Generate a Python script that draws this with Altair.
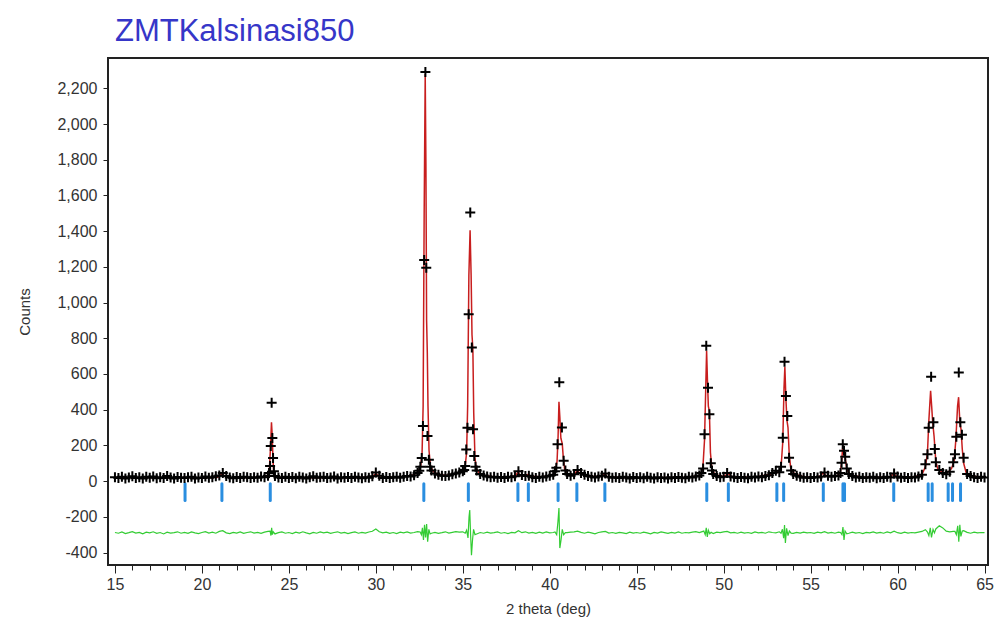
import altair as alt
import pandas as pd

# ---------------- data ----------------
SCAN_START = 15.0
SCAN_STEP = 0.2

# observed counts on the coarse scan grid 15.0 .. 65.0 (None = covered by peak points)
obs_grid = [
    22, 18, 25, 15, 20, 27, 17, 21, 14, 24,
    19, 26, 16, 22, 18, 28, 20, 15, 23, 19,
    17, 21, 25, 14, 20, 18, 26, 19, 22, 27,
    32, 45, 28, 20, 16, 23, 18, 25, 21, 17,
    22, 19, 26, 21, 30, None, 28, 20, 17, 24,
    18, 23, 16, 25, 20, 14, 22, 27, 19, 21,
    24, 17, 20, 26, 15, 22, 19, 23, 18, 25,
    20, 16, 22, 19, 27, 48, 30, 18, 23, 17,
    21, 25, 19, 24, 28, 26, 33, 45, None, None,
    None, 60, 42, 35, 30, 28, 32, 38, 42, 48,
    55, None, None, None, 60, 40, 32, 26, 22, 25,
    19, 23, 18, 24, 21, 27, 55, 34, 28, 30,
    22, 18, 25, 20, 26, 30, 35, None, None, None,
    40, 30, 38, 62, 45, 35, 28, 24, 20, 26,
    30, 42, 25, 19, 22, 17, 24, 20, 15, 23,
    18, 21, 16, 24, 19, 14, 22, 17, 20, 15,
    21, 17, 23, 19, 16, 24, 20, 26, 32, None,
    None, None, 40, 28, 22, 25, 45, 26, 21, 18,
    23, 19, 16, 24, 20, 26, 22, 28, 33, 45,
    58, 50, None, None, None, 40, 30, 24, 19, 22,
    18, 23, 20, 26, 48, 30, 24, 28, 32, None,
    None, 40, 28, 20, 24, 17, 22, 19, 25, 16,
    21, 18, 24, 20, 42, 26, 19, 23, 17, 22,
    20, 26, 35, 95, None, None, 105, 62, 45, 38,
    52, 105, None, None, 131, 40, 28, 22, 18, 24,
    20,
]

# observed points across the Bragg peaks
peak_x = [
    23.86, 23.92, 23.96, 24.01, 24.05, 24.09, 24.14,
    32.50, 32.56, 32.64, 32.71, 32.78, 32.85, 32.90, 32.97, 33.05, 33.12,
    35.08, 35.14, 35.20, 35.27, 35.34, 35.43, 35.52, 35.59, 35.66, 35.73,
    40.30, 40.38, 40.45, 40.55, 40.70, 40.80, 40.90,
    48.72, 48.82, 48.90, 49.00, 49.10, 49.18, 49.26, 49.33,
    53.30, 53.40, 53.50, 53.58, 53.66, 53.76, 53.88,
    56.72, 56.78, 56.85, 56.92, 56.99, 57.08,
    61.72, 61.79, 61.93, 62.06, 62.14,
    63.30, 63.38, 63.52, 63.61, 63.70,
]
peak_obs = [
    45, 84, 196, 439, 241, 129, 55,
    58, 80, 130, 308, 1238, 2291, 1195, 252, 120, 80,
    62, 85, 177, 299, 935, 1505, 749, 290, 140, 80,
    55, 75, 207, 553, 300, 114, 60,
    45, 71, 263, 758, 523, 375, 100, 60,
    80, 243, 668, 476, 364, 131, 60,
    45, 103, 207, 170, 136, 70,
    150, 299, 584, 329, 180,
    150, 248, 609, 330, 260,
]

# calculated profile
calc_x = [
    15.0, 16.0, 17.0, 18.0, 19.0, 20.0, 20.9, 21.15, 21.4, 22.0, 23.0, 23.6,
    23.8, 23.88, 23.94, 24.00, 24.04, 24.08, 24.12, 24.2, 24.5, 25.0, 26.0,
    27.0, 28.0, 29.0, 29.8, 30.0, 30.2, 31.0, 31.8, 32.2, 32.45, 32.58, 32.66,
    32.72, 32.78, 32.84, 32.88, 32.92, 32.96, 33.00, 33.06, 33.14, 33.3, 33.6,
    34.0, 34.5, 34.9, 35.05, 35.15, 35.22, 35.28, 35.35, 35.42, 35.48, 35.53,
    35.58, 35.63, 35.70, 35.78, 35.95, 36.3, 37.0, 37.8, 38.05, 38.18, 38.3,
    38.65, 38.77, 38.9, 39.5, 40.0, 40.3, 40.42, 40.48, 40.53, 40.58, 40.64,
    40.72, 40.78, 40.86, 41.0, 41.4, 41.58, 41.75, 42.2, 43.0, 43.17, 43.3,
    44.0, 45.0, 46.0, 47.0, 48.0, 48.6, 48.8, 48.9, 48.97, 49.02, 49.07, 49.12,
    49.18, 49.24, 49.32, 49.5, 50.0, 50.27, 50.45, 51.0, 52.0, 52.7, 53.0,
    53.12, 53.3, 53.4, 53.47, 53.52, 53.58, 53.64, 53.70, 53.77, 53.86, 54.1,
    54.6, 55.0, 55.5, 55.73, 55.9, 56.5, 56.7, 56.78, 56.85, 56.92, 56.99,
    57.08, 57.3, 58.0, 59.0, 59.6, 59.78, 59.95, 60.5, 61.0, 61.4, 61.6, 61.72,
    61.8, 61.9, 61.96, 62.02, 62.1, 62.2, 62.32, 62.45, 62.7, 62.9, 63.1, 63.25,
    63.35, 63.45, 63.51, 63.58, 63.65, 63.72, 63.8, 63.95, 64.2, 64.6, 65.0,
]
calc_y = [
    20, 20, 20, 19, 20, 19, 21, 40, 22, 19, 20, 24,
    34, 70, 180, 330, 260, 140, 60, 32, 22, 20, 19,
    19, 19, 20, 24, 42, 24, 22, 27, 36, 55, 85, 160,
    420, 1500, 2280, 1780, 900, 720, 420, 170, 85, 52, 38,
    32, 40, 52, 65, 95, 160, 420, 1150, 1405, 1150, 820,
    740, 380, 130, 70, 45, 30, 22, 24, 32, 52, 30,
    30, 38, 27, 24, 28, 45, 110, 250, 444, 360, 240,
    210, 130, 65, 38, 36, 60, 42, 27, 26, 42, 25,
    20, 19, 19, 20, 22, 32, 65, 230, 520, 730, 560, 420,
    390, 160, 70, 36, 26, 42, 26, 22, 26, 38, 52,
    48, 75, 220, 520, 640, 460, 340, 300, 150, 70, 38,
    25, 22, 26, 46, 28, 30, 45, 100, 200, 175, 130,
    65, 34, 22, 21, 24, 42, 24, 22, 24, 36, 80, 160,
    340, 506, 420, 330, 250, 110, 65, 58, 45, 50, 70, 110,
    230, 420, 470, 330, 290, 180, 100, 45, 30, 24, 22,
]

# difference curve (shown offset) on the coarse grid
diff_grid = [
    -288, -292, -285, -294, -289, -283, -291, -287, -295, -286,
    -290, -284, -293, -288, -296, -286, -291, -289, -284, -292,
    -287, -293, -285, -290, -294, -288, -283, -291, -286, -292,
    -282, -278, -290, -294, -287, -291, -285, -293, -288, -284,
    -291, -287, -293, -286, -282, None, -296, -289, -285, -292,
    -288, -294, -286, -291, -284, -290, -295, -287, -292, -285,
    -290, -286, -293, -288, -284, -291, -287, -294, -289, -285,
    -292, -287, -291, -285, -281, -268, -284, -290, -286, -293,
    -288, -294, -286, -290, -285, -291, -288, -283, None, None,
    None, -292, -287, -293, -289, -284, -291, -287, -283, -286,
    -284, None, None, None, -296, -288, -292, -286, -291, -289,
    -285, -292, -288, -294, -287, -290, -278, -289, -284, -291,
    -287, -293, -286, -291, -285, -290, -288, None, None, None,
    -289, -286, -284, -280, -287, -292, -286, -290, -295, -288,
    -284, -282, -291, -288, -293, -287, -290, -294, -286, -291,
    -288, -292, -286, -290, -295, -287, -291, -285, -289, -293,
    -287, -291, -285, -292, -288, -290, -286, -283, -289, None,
    None, None, -294, -286, -289, -284, -282, -290, -287, -292,
    -286, -291, -288, -293, -285, -290, -287, -292, -284, -288,
    -290, -284, None, None, None, -293, -287, -291, -286, -290,
    -288, -293, -286, -290, -283, -291, -287, -292, -286, None,
    None, -292, -286, -291, -288, -294, -287, -290, -285, -291,
    -287, -292, -285, -290, -281, -289, -293, -286, -291, -288,
    -290, -286, -282, -272, None, None, -268, -250, -262, -280,
    -284, -282, None, None, -278, -287, -292, -286, -290, -288,
    -289,
]
diff_peak_x = [
    23.92, 23.97, 24.01, 24.05, 24.10,
    32.55, 32.62, 32.68, 32.74, 32.80, 32.86, 32.92, 32.98, 33.05, 33.12,
    35.14, 35.22, 35.30, 35.36, 35.40, 35.45, 35.50, 35.56, 35.62, 35.70,
    40.30, 40.40, 40.47, 40.53, 40.58, 40.65, 40.72, 40.80, 40.90,
    48.86, 48.94, 49.00, 49.06, 49.12, 49.20, 49.28,
    53.30, 53.38, 53.45, 53.50, 53.55, 53.62, 53.70, 53.78, 53.88,
    56.72, 56.80, 56.86, 56.92, 56.98, 57.08,
    61.72, 61.80, 61.88, 61.95, 62.04, 62.12,
    63.30, 63.38, 63.46, 63.52, 63.58, 63.64, 63.72,
]
diff_peak_y = [
    -280, -305, -262, -300, -284,
    -285, -300, -262, -330, -245, -315, -240, -340, -270, -296,
    -292, -275, -318, -200, -162, -300, -415, -330, -270, -300,
    -285, -300, -230, -151, -375, -330, -270, -300, -288,
    -280, -300, -262, -313, -275, -295, -287,
    -292, -270, -320, -246, -347, -265, -305, -280, -292,
    -288, -300, -257, -330, -280, -295,
    -285, -305, -262, -315, -270, -290,
    -282, -300, -250, -340, -245, -310, -280,
]

# reflection positions (blue markers)
hkl_pos = [19.03, 21.15, 23.93, 32.76, 35.32, 38.17, 38.77, 40.48, 41.56, 43.17,
           49.03, 50.27, 53.06, 53.45, 55.73, 56.86, 56.95, 59.78, 61.76, 61.99,
           62.91, 63.16, 63.62]
hkl_top, hkl_bottom = -15, -108

x_tick_values = list(range(15, 66))
y_tick_values = list(range(-400, 2201, 200))

# ---------------- tables ----------------
grid_x = [round(SCAN_START + SCAN_STEP * i, 2) for i in range(len(obs_grid))]
obs_df = pd.concat([
    pd.DataFrame({"x": grid_x, "y": obs_grid}).dropna(),
    pd.DataFrame({"x": peak_x, "y": peak_obs}),
])
calc_df = pd.DataFrame({"x": calc_x, "y": calc_y})
diff_df = pd.concat([
    pd.DataFrame({"x": grid_x, "y": diff_grid}).dropna(),
    pd.DataFrame({"x": diff_peak_x, "y": diff_peak_y}),
]).sort_values("x")
hkl_df = pd.DataFrame({"x": hkl_pos, "y": [hkl_top] * len(hkl_pos), "y2": [hkl_bottom] * len(hkl_pos)})

FONT = "Liberation Sans"
xs = alt.Scale(domain=[14.6, 65.2], nice=False, zero=False)
ys = alt.Scale(domain=[-470, 2370], nice=False, zero=False)

xaxis = alt.Axis(
    values=x_tick_values,
    labelExpr="datum.value % 5 === 0 ? datum.label : ''",
    tickSize={"condition": {"test": "datum.value % 5 === 0", "value": 8}, "value": 5},
    tickColor="#222", tickWidth=1, domain=False, grid=False,
    labelFontSize=16, labelColor="#333", labelFont=FONT, labelPadding=3,
    labelFlush=False, labelOverlap=False,
    title="2 theta (deg)", titleFontSize=15, titleFontWeight="normal",
    titleColor="#333", titleFont=FONT, titlePadding=9,
)
yaxis = alt.Axis(
    values=y_tick_values,
    labelExpr="(datum.value < 0 ? '-' : '') + format(abs(datum.value), ',')",
    tickSize=5, tickColor="#222", domain=False, grid=False,
    labelFontSize=16, labelColor="#333", labelFont=FONT, labelPadding=6,
    labelOverlap=False, labelFlush=False,
    title="Counts", titleFontSize=15, titleFontWeight="normal",
    titleColor="#333", titleFont=FONT, titlePadding=24,
)

X = alt.X("x:Q", scale=xs, axis=xaxis)
Y = alt.Y("y:Q", scale=ys, axis=yaxis)

calc_line = alt.Chart(calc_df).mark_line(color="#c81e1e", strokeWidth=1.5, clip=True).encode(x=X, y=Y)
ticks = alt.Chart(hkl_df).mark_rule(color="#2a8ee0", strokeWidth=3, strokeCap="round", clip=True).encode(
    x=X, y=Y, y2="y2:Q"
)
obs_pts = alt.Chart(obs_df).mark_point(
    shape="M -1 0 L 1 0 M 0 -1 L 0 1", filled=False, stroke="#000",
    strokeWidth=2, size=100, opacity=1, clip=True
).encode(x=X, y=Y)
diff_line = alt.Chart(diff_df).mark_line(color="#33cc33", strokeWidth=1.2, clip=True).encode(x=X, y=Y)

chart = alt.layer(calc_line, ticks, obs_pts, diff_line).properties(
    width=880, height=507,
    background="white",
    title=alt.Title("ZMTKalsinasi850", anchor="start", frame="group", dx=7, fontSize=31,
                    font=FONT, fontWeight="normal", color="#3636c8", offset=10),
    autosize=alt.AutoSizeParams(type="none"),
    padding={"left": 108, "top": 58, "right": 10, "bottom": 72},
).configure_view(stroke="#222", strokeWidth=2)

chart.save("out.html", embed_options={"renderer": "svg", "actions": False})
